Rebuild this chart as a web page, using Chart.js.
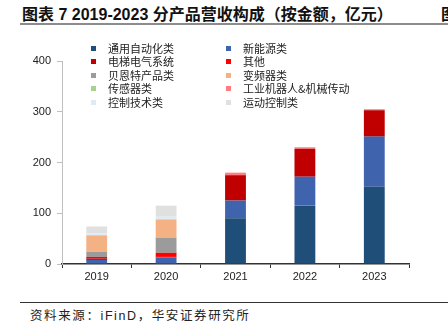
<!DOCTYPE html>
<html>
<head>
<meta charset="utf-8">
<script src="https://cdn.jsdelivr.net/npm/chart.js@4"></script>
<style>
  html, body { margin: 0; padding: 0; background: #fff; }
  body { width: 448px; height: 330px; position: relative; overflow: hidden;
         font-family: "Liberation Sans", "Noto Sans CJK SC", sans-serif; }
  .title { position: absolute; left: 22px; top: 1px; font-size: 16px; font-weight: bold;
           color: #111; white-space: nowrap; font-family: "Liberation Sans", "Noto Sans CJK SC", sans-serif; }
  .title-cut { position: absolute; left: 441px; top: 1px; font-size: 16px; font-weight: bold; color: #111; }
  .rule-top { position: absolute; left: 20px; right: 0; top: 23px; height: 2px; background: #8c8c8c; }
  .rule-bottom { position: absolute; left: 20px; right: 0; top: 302px; height: 1px; background: #333; }
  .source { position: absolute; left: 30px; top: 305px; font-size: 12.5px; color: #222; letter-spacing: 1.6px;
            font-family: "Liberation Sans", "Noto Sans CJK SC", sans-serif; }
  #chartBox { position: absolute; left: 0; top: 30px; width: 448px; height: 262px; }
  #legend { position: absolute; left: 0; top: 0; }
  .lg { position: absolute; font-size: 11px; color: #222; white-space: nowrap;
        font-family: "Noto Sans CJK SC", sans-serif; line-height: 13px; }
  .lg i { position: absolute; left: -17px; top: 4px; width: 5px; height: 5px; }
</style>
</head>
<body>
<div class="title">图表 7 2019-2023 分产品营收构成（按金额，亿元）</div>
<div class="title-cut">图</div>
<div class="rule-top"></div>
<div id="chartBox"><canvas id="revChart"></canvas></div>
<div id="legend"></div>
<div class="rule-bottom"></div>
<div class="source">资料来源：iFinD，华安证券研究所</div>

<script>
// categories
const years = ['2019', '2020', '2021', '2022', '2023'];

// series values (亿元)
const generalAutomation = [0, 0, 90, 115, 152];
const newEnergy = [8, 13, 35, 57, 99];
const elevatorElectric = [3, 1, 50, 55, 52];
const others = [3, 8, 0, 0, 0];
const beientProducts = [10, 30, 0, 0, 0];
const inverters = [32, 35, 0, 0, 0];
const sensors = [1, 1, 0, 0, 0];
const robotsTransmission = [0, 0, 5, 3, 2];
const controlTech = [3, 5, 0, 0, 0];
const motionControl = [14, 22, 0, 0, 0];

// y axis ticks
const yTicks = [0, 100, 200, 300, 400];

const seriesNames = ['通用自动化类', '新能源类', '电梯电气系统', '其他', '贝恩特产品类',
  '变频器类', '传感器类', '工业机器人&机械传动', '控制技术类', '运动控制类'];
const seriesData = [generalAutomation, newEnergy, elevatorElectric, others, beientProducts,
  inverters, sensors, robotsTransmission, controlTech, motionControl];
const seriesColors = ['#1f4e79', '#3f63ad', '#c00000', '#ff0000', '#9b9b9b',
  '#f4b183', '#a9d18e', '#ff7c80', '#deebf7', '#e0e0e0'];

const datasets = seriesNames.map(function (name, i) {
  return {
    label: name,
    data: seriesData[i],
    backgroundColor: seriesColors[i],
    borderWidth: 0,
    barPercentage: 0.3,
    categoryPercentage: 1.0,
  };
});

// two-column legend, drawn as html over the plot
const legend = document.getElementById('legend');
seriesNames.forEach(function (name, i) {
  const row = Math.floor(i / 2);
  const col = i % 2;
  const el = document.createElement('div');
  el.className = 'lg';
  el.style.left = (col === 0 ? 108 : 243) + 'px';
  el.style.top = (42 + row * 13.4) + 'px';
  el.innerHTML = '<i style="background:' + seriesColors[i] + '"></i>' + name;
  legend.appendChild(el);
});

const tickFont = { family: '"Liberation Sans", Arial, sans-serif', size: 11 };

new Chart(document.getElementById('revChart'), {
  type: 'bar',
  data: { labels: years, datasets: datasets },
  options: {
    responsive: true,
    maintainAspectRatio: false,
    animation: false,
    layout: { padding: { top: 31, right: 39, left: 0, bottom: 0 } },
    plugins: { legend: { display: false }, tooltip: { enabled: false } },
    scales: {
      x: {
        stacked: true,
        border: { color: '#333', width: 1.5 },
        grid: { drawOnChartArea: false, drawTicks: true, tickLength: 4, color: '#333', lineWidth: 1 },
        ticks: { color: '#222', font: tickFont, padding: 2 },
        afterFit: function (axis) { axis.height = 28; },
      },
      y: {
        stacked: true,
        min: 0,
        max: 400,
        afterBuildTicks: function (axis) {
          axis.ticks = yTicks.map(function (v) { return { value: v }; });
        },
        border: { color: '#bfbfbf', width: 1 },
        grid: { drawOnChartArea: false, drawTicks: true, tickLength: 5, color: '#bfbfbf' },
        ticks: { color: '#222', font: tickFont, padding: 6 },
        afterFit: function (axis) { axis.width = 62; },
      },
    },
  },
});
</script>
</body>
</html>
